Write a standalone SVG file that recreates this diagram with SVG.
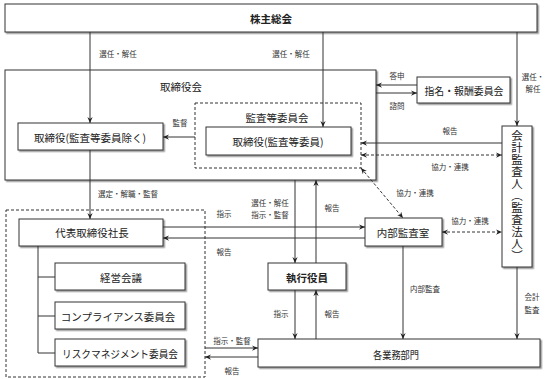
<svg xmlns="http://www.w3.org/2000/svg" width="546" height="379" viewBox="0 0 546 379">
<defs>
<filter id="sh" x="-5%" y="-10%" width="115%" height="140%">
<feDropShadow dx="1.5" dy="1.5" stdDeviation="0.7" flood-color="#000" flood-opacity="0.4"/>
</filter>
<marker id="ar" viewBox="0 0 8 8" refX="8" refY="4" markerWidth="6" markerHeight="6" orient="auto-start-reverse" markerUnits="userSpaceOnUse">
<path d="M0,0.5 L8,4 L0,7.5 L2.5,4 z" fill="#222"/>
</marker>
</defs>
<style>
.box{fill:#fff;stroke:#333;stroke-width:1;filter:url(#sh)}
.dbox{fill:none;stroke:#333;stroke-width:1;stroke-dasharray:3 2}
.t{font-family:"Noto Sans CJK JP",sans-serif;font-size:10.5px;fill:#222;text-anchor:middle;dominant-baseline:central}
.b{font-weight:700}
.s{font-family:"Noto Sans CJK JP",sans-serif;font-size:7.5px;fill:#333;text-anchor:middle;dominant-baseline:central}
.v{font-family:"Noto Sans CJK JP",sans-serif;font-size:11.5px;fill:#222;text-anchor:middle;writing-mode:vertical-rl;letter-spacing:0.5px}
.ln{stroke:#333;stroke-width:1;fill:none}
.a{marker-end:url(#ar)}
.d{stroke-dasharray:3 2;marker-start:url(#ar);marker-end:url(#ar)}
</style>

<g id="n-shareholders">
<rect class="box" x="5" y="4" width="532" height="28"/>
<text class="t b" x="271" y="18">株主総会</text>
</g>
<g id="n-board">
<rect class="box" x="5" y="70" width="371" height="110"/>
<text class="t" x="181" y="86">取締役会</text>
</g>
<g id="n-directors">
<rect class="box" x="18" y="123" width="145" height="27"/>
<text class="t" x="90" y="137">取締役(監査等委員除く)</text>
</g>
<g id="n-audit-committee">
<rect class="dbox" x="195" y="103" width="166" height="65"/>
<text class="t" x="277" y="117">監査等委員会</text>
</g>
<g id="n-audit-directors">
<rect class="box" x="206" y="127" width="145" height="28"/>
<text class="t" x="278" y="141">取締役(監査等委員)</text>
</g>
<g id="n-nomination">
<rect class="box" x="417" y="77" width="93" height="26"/>
<text class="t" x="464" y="90" textLength="79" lengthAdjust="spacingAndGlyphs">指名・報酬委員会</text>
</g>
<g id="n-accounting-auditor">
<rect class="box" x="502" y="126" width="30" height="141"/>
<text class="v" x="517" y="196">会計監査人（監査法人）</text>
</g>
<g id="n-exec-group">
<rect class="dbox" x="6" y="210" width="199" height="167"/>
</g>
<g id="n-president">
<rect class="box" x="19" y="219" width="144" height="27"/>
<text class="t" x="92" y="232">代表取締役社長</text>
</g>
<g id="n-management">
<rect class="box" x="55" y="263" width="130" height="27"/>
<text class="t" x="121" y="277">経営会議</text>
</g>
<g id="n-compliance">
<rect class="box" x="55" y="302" width="130" height="27"/>
<text class="t" x="118" y="316">コンプライアンス委員会</text>
</g>
<g id="n-risk">
<rect class="box" x="55" y="339" width="130" height="27"/>
<text class="t" x="120" y="353" textLength="116" lengthAdjust="spacingAndGlyphs">リスクマネジメント委員会</text>
</g>
<g id="n-internal-audit">
<rect class="box" x="365" y="218" width="77" height="28"/>
<text class="t" x="403" y="232">内部監査室</text>
</g>
<g id="n-officers">
<rect class="box" x="268" y="263" width="78" height="27"/>
<text class="t b" x="307" y="277">執行役員</text>
</g>
<g id="n-departments">
<rect class="box" x="258" y="339" width="282" height="28"/>
<text class="t" x="396" y="354" textLength="46" lengthAdjust="spacingAndGlyphs">各業務部門</text>
</g>

<g id="connectors">
<path class="ln a" d="M90,32 V123"/>
<path class="ln a" d="M323,32 V127"/>
<path class="ln a" d="M517,32 V126"/>
<path class="ln a" d="M417,85 H376"/>
<path class="ln a" d="M376,93 H417"/>
<path class="ln a" d="M195,137 H163"/>
<path class="ln a" d="M502,143 H361"/>
<path class="ln d" d="M361,155 H502"/>
<path class="ln a" d="M90,150 V219"/>
<path class="ln a" d="M295,180 V263"/>
<path class="ln a" d="M316,263 V180"/>
<path class="ln a" d="M163,227 H365"/>
<path class="ln a" d="M365,238 H163"/>
<path class="ln d" d="M361,168 L403,218"/>
<path class="ln d" d="M442,232 H502"/>
<path class="ln" d="M38,246 V353 M38,277 H55 M38,316 H55 M38,353 H55"/>
<path class="ln a" d="M295,290 V339"/>
<path class="ln a" d="M316,339 V290"/>
<path class="ln a" d="M403,246 V339"/>
<path class="ln a" d="M517,267 V339"/>
<path class="ln a" d="M205,348 H258"/>
<path class="ln a" d="M258,357 H205"/>

<text class="s" x="118" y="53">選任・解任</text>
<text class="s" x="291" y="53">選任・解任</text>
<text class="s" x="533" y="76">選任・</text>
<text class="s" x="533" y="88">解任</text>
<text class="s" x="397" y="75">答申</text>
<text class="s" x="397" y="105">諮問</text>
<text class="s" x="180" y="122">監督</text>
<text class="s" x="450" y="130">報告</text>
<text class="s" x="450" y="166">協力・連携</text>
<text class="s" x="128" y="193">選定・解職・監督</text>
<text class="s" x="270" y="202">選任・解任</text>
<text class="s" x="270" y="214">指示・監督</text>
<text class="s" x="332" y="207">報告</text>
<text class="s" x="224" y="213">指示</text>
<text class="s" x="224" y="251">報告</text>
<text class="s" x="415" y="192">協力・連携</text>
<text class="s" x="470" y="220">協力・連携</text>
<text class="s" x="281" y="313">指示</text>
<text class="s" x="332" y="313">報告</text>
<text class="s" x="425" y="288">内部監査</text>
<text class="s" x="532" y="296">会計</text>
<text class="s" x="532" y="309">監査</text>
<text class="s" x="232" y="340">指示・監督</text>
<text class="s" x="232" y="370">報告</text>
</g>
</svg>
